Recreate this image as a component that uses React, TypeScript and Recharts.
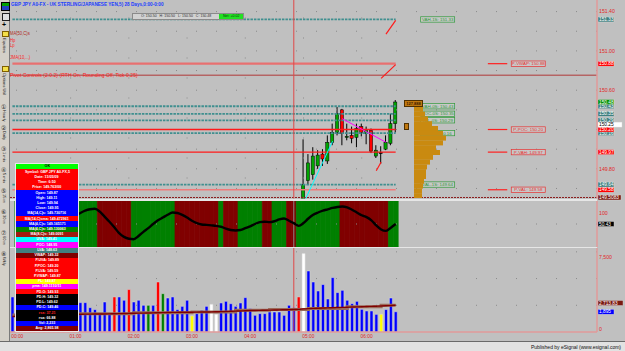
import React from 'react';
import { ComposedChart, BarChart, Bar, Line, XAxis, YAxis, ReferenceLine, Cell } from 'recharts';

const F = '"Liberation Sans", Arial, sans-serif';
const BG = '#c0c0c0';
const AXIS_RED = '#e02828';
const AXIS_LINE = '#e29a9a';

// 5-minute bars: index 0 = 23:55, 1 = 00:00 ... 79 = 06:30, the rest is empty room up to the scale
const SLOTS = 121;
const HOUR_TICKS = [1, 13, 25, 37, 49, 61, 73];
const HOUR_NAMES = ['00:00', '01:00', '02:00', '03:00', '04:00', '05:00', '06:00'];
const GRID_COLS = [12, 24, 36, 48, 60, 72];
const CURSOR_BAR = 58;
const LAST_BAR = 79;

// candles from 04:55 on (earlier ones are below the visible price range)
const CANDLE_START = 60;
const OPEN = [149.40, 149.68, 149.74, 149.83, 149.95, 149.88, 150.07, 150.17, 150.40, 150.12, 150.14, 150.12, 150.23, 150.16, 150.19, 149.93, 149.96, 150.00, 150.06, 150.26];
const HIGH = [150.10, 149.95, 150.02, 149.99, 150.00, 150.14, 150.26, 150.43, 150.41, 150.26, 150.23, 150.26, 150.26, 150.23, 150.21, 150.04, 150.03, 150.14, 150.36, 150.50];
const LOW = [149.30, 149.64, 149.69, 149.80, 149.83, 149.85, 150.04, 150.14, 150.04, 150.09, 150.06, 150.02, 150.13, 150.05, 149.96, 149.91, 149.85, 149.99, 150.04, 150.17];
const CLOSE = [149.64, 149.86, 149.93, 149.94, 149.90, 150.07, 150.17, 150.36, 150.16, 150.13, 150.11, 150.21, 150.17, 150.20, 149.98, 149.99, 149.965, 150.07, 150.26, 150.48];

const PRICE_MIN = 149.498;
const PRICE_MAX = 151.518;
const PRICE_TICKS = [149.6, 149.8, 150.0, 150.2, 150.4, 150.6, 150.8, 151.0, 151.2, 151.4];
const PRICE_TICKS_COVERED = [149.6, 150.2, 150.4];

// value-area levels (teal dashed)
const VA_LEVELS = [151.32, 150.437, 150.36, 150.294, 150.164, 149.64];
const VA_TAGS = ['151.33', '150.43', '150.35', '150.29', '150.16', '149.64'];
const VA_NOTES = ['VAH-1S: 151.33', 'VAH-0S: 150.43', 'POC-0S: 150.35', 'VAL-0S: 150.29', 'PL-0S: 150.16', 'VAL-1S: 149.64'];
// prior-session levels (red)
const PRIOR_LEVELS = [150.87, 150.2, 149.97, 149.587];
const PRIOR_TAGS = ['150.88', '150.20', '149.97', '149.58'];
const PRIOR_NOTES = ['P-VWAP: 150.88', 'P-POC: 150.20', 'P-VAH: 149.97', 'P-VAL: 149.58'];
const PRIOR_NOTE_FROM = 98;
const PRIOR_NOTE_TO = 102;
const PIVOT_LINE = 150.753;
const LAST_PRICE = 150.48;
const CURSOR_PRICE = 150.25;
const PRIOR_LOW = 149.5083;

const SUPPORT_LINE = [{ x: 60, y: 149.45 }, { x: 66, y: 150.08 }];
const SWING_LINE = [{ x: 68, y: 150.31 }, { x: 77, y: 150.07 }];
const PROJECTIONS = [
  [{ x: 77, y: 151.17 }, { x: 79, y: 151.31 }],
  [{ x: 76, y: 150.72 }, { x: 79, y: 150.86 }],
  [{ x: 75, y: 149.78 }, { x: 76, y: 149.87 }],
];

// volume profile (price bins of 0.05)
const PROFILE_PRICES = [150.45, 150.40, 150.35, 150.30, 150.25, 150.20, 150.15, 150.10, 150.05, 150.00, 149.95, 149.90, 149.85, 149.80, 149.75, 149.70, 149.65, 149.60, 149.55, 149.50];
const PROFILE_VOL = [7, 9, 11, 14, 18, 24, 29, 32, 29, 22, 26, 19, 16, 13, 12, 12, 10, 9, 8, 8];

// oscillator (0-100) and its background state per bar
const OSC = [null, null, null, null, null, null, null, null, null, null, null, null,
  64, 68, 74, 79, 82, 83, 77, 66, 55, 43, 30, 22, 18, 17, 24, 33, 41, 50, 58, 64, 70, 75, 74, 70,
  64, 57, 52, 49, 48, 47, 46, 44, 40, 37, 36, 37, 41, 45, 50, 54, 55, 54, 56, 60, 62, 57, 52, 46,
  52, 62, 70, 75, 79, 82, 85, 87, 88, 86, 81, 75, 69, 65, 58, 47, 38, 35, 42, 50];
const BANDS =
  '-' + 'ggggggggggggggggg' + 'rrrrrrr' + 'ggggggggg' + 'rrrrrrrrr' + 'g' + 'rrr' +
  'ggggg' + 'rr' + 'ggg' + 'rr' + 'ggggggggg' + 'rrrrrrrrrr' + 'gg';
const OSC_LAST_TAG = '50.43';

// volume
const VOLUME = [3280,
  2600, 2400, 2900, 2200, 2500, 2100, 2700, 2300, 2000, 2400, 2600, 2200, 2500,
  2750, 2750, 2280, 2100, 1720, 2810, 1720, 3280, 3280, 2970, 3970, 2810, 2970, 2500, 2500, 2500,
  4680, 3590, 3180, 3280, 2100, 2400, 2970, 1500, 1720, 2030, 2400, 2590, 1650, 2720, 2870, 2650,
  2400, 2720, 3220, 2190, 1560, 1720, 1720, 1870, 1870, 1870, 1560, 2500, 2280, 3280, 7340, 5710,
  4680, 3840, 4440, 3090, 5090, 3690, 3900, 2970, 2650, 2870, 2120, 1970, 1970, 1650, 1650, 2100, 3180, 1895];
const VOL_COLORS =
  'bbbbbbbbbbbbbbbbbbbbb' + 'r' + 'bb' + 'r' + 'bbb' + 'g' + 'b' + 'r' + 'g' + 'bbbbb' + 'y' + 'bbb' +
  'ww' + 'bbbbbbbbbbbbbbbb' + 'r' + 'w' + 'bbbbbbbbbbbbbbb' + 'y' + 'bbb';
const VOL_MA = [1450, 1480, 1500, 1520, 1540, 1560, 1580, 1600, 1610, 1620,
  1630, 1640, 1650, 1655, 1660, 1670, 1675, 1680, 1685, 1690,
  1700, 1710, 1720, 1730, 1745, 1755, 1765, 1770, 1780, 1790,
  1805, 1815, 1825, 1835, 1840, 1845, 1855, 1855, 1860, 1865,
  1870, 1885, 1895, 1905, 1920, 1940, 1955, 1970, 1990, 2005,
  2015, 2025, 2035, 2045, 2055, 2070, 2080, 2090, 2100, 2115,
  2160, 2190, 2210, 2225, 2240, 2255, 2275, 2290, 2305, 2320,
  2335, 2350, 2365, 2385, 2400, 2415, 2430, 2450, 2475, 2500];
const STEP_AT = [0, 13, 25, 37, 46, 53, 61, 69, 76, 79];
const STEP_VALUES = [1600, 1700, 1800, 1870, 2030, 2100, 2190, 2370, 2500, 2500];
const VOL_TICKS = [0, 2500, 5000, 7500];
const VOL_GRID = [2500, 5000, 7500];
const VOL_AVG = 2713.83;
const VOL_LAST = 1895;

const INFO_ROWS = ['OK', 'Symbol: GBP JPY A0-FX,5', 'Date: 11/05/09', 'Time: 6:50', 'Price: 149.763/00', 'Open: 149.87',
  'High: 149.11', 'Low: 149.94', 'Close: 149.95', 'MA(14,C)s: 149.730716', 'MA(14,C)sma: 149.472961',
  'MA(4,C)s: 149.165171', 'MA(4,C)s: 149.130063', 'MA(8,C)s: 149.0091', 'UVA: 149.41', 'POC: 148.95',
  'LVA: 148.63', 'VWAP: 149.32', 'P.UVA: 149.89', 'P.POC: 149.20', 'P.LVA: 149.59', 'P.VWAP: 149.87',
  'PL: 149.87', 'pma: 149.1110/11', 'PD.O: 149.93', 'PD.H: 149.32', 'PD.L: 149.62', 'PD.C: 149.46',
  'rsa: 37.21', 'rsa: 66.88', 'Vol: 2,233', 'Avg: 2,865.98'];
const INFO_BG = ['#00ff00', '#ff0000', '#ff0000', '#ff0000', '#ff0000', '#0000ff', '#0000ff', '#0000ff', '#0000ff',
  '#0000ff', '#ff0000', '#0000ff', '#008000', '#a01c10', '#00ffff', '#ff00ff', '#408080', '#800000', '#ff0000',
  '#ff0000', '#ff0000', '#ff0000', '#ffff00', '#ff00ff', '#ff0000', '#000000', '#000000', '#0000ff', '#000000',
  '#000000', '#0000ff', '#800000'];

const VOL_FILL: Record<string, string> = { b: '#0000ff', r: '#ff0000', g: '#008000', w: '#ffffff', y: '#ffff00' };
const BAND_FILL: Record<string, string> = { g: '#008000', r: '#800000' };

const rows = Array.from({ length: SLOTS }, (_, i) => {
  const k = i - CANDLE_START;
  const has = k >= 0 && k < OPEN.length;
  const s = STEP_AT.indexOf(i);
  return {
    i,
    range: has ? [LOW[k], HIGH[k]] : null,
    o: has ? OPEN[k] : null,
    h: has ? HIGH[k] : null,
    l: has ? LOW[k] : null,
    c: has ? CLOSE[k] : null,
    vol: i < VOLUME.length ? VOLUME[i] : null,
    vc: VOL_COLORS[i] || 'b',
    ma: i < VOL_MA.length ? VOL_MA[i] : null,
    step: s >= 0 ? STEP_VALUES[s] : null,
    band: i < BANDS.length && BANDS[i] !== '-' ? 100 : null,
    bc: BANDS[i] || '-',
    osc: i < OSC.length ? OSC[i] : null,
  };
});

const profileRows = PROFILE_PRICES.map((p, k) => ({ p: p.toFixed(2), v: PROFILE_VOL[k] }));

const Candle = (props: any) => {
  const { x, y, width, height, payload } = props;
  if (!payload || payload.o == null || !height) return <g />;
  const { o, h, l, c } = payload;
  const top = Math.min(y, y + height);
  const span = Math.abs(height);
  const py = (v: number) => top + ((h - v) / (h - l)) * span;
  const cx = x + width / 2;
  const bTop = py(Math.max(o, c));
  const bBot = py(Math.min(o, c));
  const fill = Math.abs(c - o) < 0.008 ? '#000' : c > o ? '#00a400' : '#ff0000';
  return (
    <g>
      <line x1={cx} x2={cx} y1={top} y2={top + span} stroke="#000" strokeWidth={1} />
      <rect x={cx - 1.6} y={bTop} width={3.2} height={Math.max(1, bBot - bTop)} fill={fill} stroke="#000" strokeWidth={0.5} />
    </g>
  );
};

function Tag({ viewBox, text, bg, fg = '#fff', w = 16 }: any) {
  if (!viewBox) return null;
  const x = viewBox.x + viewBox.width + 1;
  const y = viewBox.y;
  return (
    <g>
      <rect x={x} y={y - 2.5} width={w} height={5} fill={bg} stroke="#d8d8d8" strokeWidth={0.4} />
      <text x={x + 1} y={y + 1.7} fontSize={4.8} fill={fg} fontFamily={F}>{text}</text>
    </g>
  );
}

function Note({ viewBox, text, tone, gap }: any) {
  if (!viewBox) return null;
  const x = viewBox.x + viewBox.width + gap;
  const y = viewBox.y;
  const col = tone === 'red' ? '#e83030' : '#2f9a3a';
  return (
    <g>
      <rect x={x} y={y - 2.7} width={34} height={5.4} fill="#c8c8c8" stroke={col} strokeWidth={0.7} />
      <text x={x + 17} y={y + 1.6} textAnchor="middle" fontSize={4.4} fill={col} fontFamily={F}>{text}</text>
    </g>
  );
}

const PriceTick = ({ x, y, payload }: any) => {
  if (PRICE_TICKS_COVERED.includes(payload.value)) return <g />;
  return <text x={x} y={y} dy={1.8} fontSize={5.2} fill={AXIS_RED} fontFamily={F}>{payload.value.toFixed(2)}</text>;
};

const OscTick = ({ x, y, payload }: any) => (
  <text x={x} y={y} dy={payload.value === 100 ? 4.5 : 0.5} fontSize={5.2} fill={AXIS_RED} fontFamily={F}>{payload.value}</text>
);

const VolTick = ({ x, y, payload }: any) => {
  if (payload.value === 2500) return <g />;
  return <text x={x} y={y} dy={payload.value === 0 ? -1 : 1.8} fontSize={5.2} fill={AXIS_RED} fontFamily={F}>{payload.value.toLocaleString('en-US')}</text>;
};

const TimeTick = ({ x, y, payload }: any) => {
  const k = HOUR_TICKS.indexOf(payload.value);
  if (k < 0) return <g />;
  return <text x={x} y={y} dy={4} textAnchor="middle" fontSize={4.8} fill={AXIS_RED} fontFamily={F}>{HOUR_NAMES[k]}</text>;
};

function Txt({ x, y, size, color, sx = 1, bold, children }: any) {
  return (
    <div style={{ position: 'absolute', left: x, top: y, fontSize: size, lineHeight: 1, color, fontWeight: bold ? 700 : 400,
      whiteSpace: 'nowrap', transform: `scaleX(${sx})`, transformOrigin: '0 0', fontFamily: F }}>{children}</div>
  );
}

const dotted = { stroke: '#8a8a8a', strokeDasharray: '1 19' };

function LeftStrip() {
  const circles = ['①', '②', '③', '④', '⑤', '⑥', '⑦', '⑧'];
  const names = ['Hourly', 'Daily', '1 min', '5 min', '15 m', '30 m', '60 m', 'Wkly'];
  return (
    <div style={{ position: 'absolute', left: 0, top: 0, width: 9, height: 341, background: '#d4d0c8', borderRight: '1px solid #7a7a7a' }}>
      <div style={{ position: 'absolute', left: 1, top: 2, width: 7, height: 7, background: 'linear-gradient(#00a000 50%, #2040c0 50%)', border: '0.5px solid #000' }} />
      <div style={{ position: 'absolute', left: 1.5, top: 13, width: 6, height: 6, border: '1px solid #202020', background: '#e0e0e0' }} />
      <div style={{ position: 'absolute', left: 2, top: 21, fontSize: 7, fontWeight: 700, lineHeight: 1 }}>+</div>
      <div style={{ position: 'absolute', left: 2, top: 31, width: 5, height: 4, background: '#f4e04a', border: '0.5px solid #806000' }} />
      <div style={{ position: 'absolute', left: 1.5, top: 38, fontSize: 4.2, writingMode: 'vertical-rl', lineHeight: 1, color: '#202020' }}>Equities</div>
      <div style={{ position: 'absolute', left: 2, top: 66, width: 5, height: 4, background: '#f4e04a', border: '0.5px solid #806000' }} />
      <div style={{ position: 'absolute', left: 1.5, top: 73, fontSize: 4.2, writingMode: 'vertical-rl', lineHeight: 1, color: '#202020' }}>Options Util</div>
      {circles.map((c, k) => (
        <div key={k} style={{ position: 'absolute', left: 0.5, top: 104 + k * 21, lineHeight: 1, fontSize: 6, color: '#202020' }}>
          <div>{c}</div>
          <div style={{ fontSize: 4, writingMode: 'vertical-rl', marginLeft: 1.5 }}>{names[k]}</div>
        </div>
      ))}
    </div>
  );
}

function InfoBox() {
  return (
    <div style={{ position: 'absolute', left: 15, top: 163, width: 62, border: '0.5px solid #e8e8e8' }}>
      {INFO_ROWS.map((t, k) => (
        <div key={k} style={{ height: 5.22, background: INFO_BG[k], display: 'flex', alignItems: 'center', justifyContent: 'center', overflow: 'hidden' }}>
          <span style={{ fontSize: 4.4, fontWeight: 700, lineHeight: 1, whiteSpace: 'nowrap', fontFamily: F,
            color: k === 0 ? '#000' : k === 28 ? '#ff2020' : '#fff', transform: 'scaleX(0.82)' }}>{t}</span>
        </div>
      ))}
    </div>
  );
}

export default function App() {
  return (
    <div style={{ position: 'absolute', left: 0, top: 0, width: 625, height: 351, background: BG, overflow: 'hidden', fontFamily: F }}>
      {/* panel separators */}
      <div style={{ position: 'absolute', left: 10, top: 199, width: 587, height: 1.5, background: '#e6e6e6' }} />
      <div style={{ position: 'absolute', left: 10, top: 247, width: 587, height: 1.2, background: '#e6e6e6' }} />

      {/* oscillator panel */}
      <div style={{ position: 'absolute', left: 0, top: 201 }}>
        <ComposedChart width={625} height={46} data={rows} margin={{ top: 0, right: 0, bottom: 0, left: 10 }} barCategoryGap={0} barGap={0}>
          <XAxis dataKey="i" type="category" hide />
          <YAxis orientation="right" width={28} domain={[0, 100]} ticks={[0, 100]} tick={<OscTick />} tickLine={false}
            tickSize={1} tickMargin={1} axisLine={{ stroke: AXIS_LINE, strokeWidth: 1.5 }} />
          <ReferenceLine y={50} {...dotted} />
          <Bar dataKey="band" isAnimationActive={false}>
            {rows.map((r) => (
              <Cell key={r.i} fill={BAND_FILL[r.bc] || 'none'} stroke={BAND_FILL[r.bc] || 'none'} strokeWidth={0.6} />
            ))}
          </Bar>
          <ReferenceLine x={CURSOR_BAR} stroke="#8a8a8a" strokeWidth={1} />
          <Line dataKey="osc" type="monotone" stroke="#000" strokeWidth={2.4} dot={false} isAnimationActive={false} />
          <ReferenceLine y={50} stroke="none" label={<Tag text={OSC_LAST_TAG} bg="#000" />} />
        </ComposedChart>
      </div>

      {/* volume panel */}
      <div style={{ position: 'absolute', left: 0, top: 248 }}>
        <ComposedChart width={625} height={94} data={rows} margin={{ top: 0, right: 0, bottom: 0, left: 10 }}>
          <XAxis dataKey="i" type="category" interval={0} tick={<TimeTick />} tickLine={false} tickSize={2} tickMargin={0}
            height={10} axisLine={{ stroke: AXIS_LINE, strokeWidth: 1.5 }} />
          <YAxis orientation="right" width={28} domain={[0, 7860]} ticks={VOL_TICKS} tick={<VolTick />} tickLine={false}
            tickSize={1} tickMargin={1} axisLine={{ stroke: AXIS_LINE, strokeWidth: 1.5 }} />
          {VOL_GRID.map((v) => <ReferenceLine key={'vg' + v} y={v} {...dotted} />)}
          <ReferenceLine x={CURSOR_BAR} stroke="#e04848" strokeWidth={1} />
          <Bar dataKey="vol" barSize={3} isAnimationActive={false}>
            {rows.map((r) => (
              <Cell key={r.i} fill={VOL_FILL[r.vc]} stroke="#dcdcdc" strokeWidth={0.5} />
            ))}
          </Bar>
          <Line dataKey="step" type="stepAfter" connectNulls stroke="#9a6a5a" strokeWidth={3} dot={false} isAnimationActive={false} />
          <Line dataKey="ma" type="monotone" stroke="#800000" strokeWidth={1.4} dot={false} isAnimationActive={false} />
          <ReferenceLine y={VOL_AVG} stroke="none" label={<Tag text="2,713.83" bg="#7a1a12" w={25} />} />
          <ReferenceLine y={VOL_LAST} stroke="none" label={<Tag text="1,895" bg="#0000ff" />} />
        </ComposedChart>
      </div>

      {/* price panel */}
      <div style={{ position: 'absolute', left: 0, top: 0 }}>
        <ComposedChart width={625} height={202} data={rows} margin={{ top: 0, right: 0, bottom: 3.5, left: 10 }}>
          <XAxis dataKey="i" type="category" hide />
          <YAxis orientation="right" width={28} type="number" domain={[PRICE_MIN, PRICE_MAX]} allowDataOverflow
            ticks={PRICE_TICKS} tick={<PriceTick />} tickLine={false} tickSize={1} tickMargin={1}
            axisLine={{ stroke: AXIS_LINE, strokeWidth: 1.5 }} />
          {PRICE_TICKS.map((p) => <ReferenceLine key={'g' + p} y={p} {...dotted} />)}
          {GRID_COLS.map((c) => <ReferenceLine key={'v' + c} x={c} {...dotted} />)}
          <ReferenceLine y={PIVOT_LINE} stroke="#b03838" strokeWidth={1} />
          <ReferenceLine y={PRIOR_LOW} stroke="#8b1c1c" strokeWidth={1} strokeDasharray="2 1" />
          {VA_LEVELS.map((p, k) => (
            <ReferenceLine key={'va' + k} segment={[{ x: 0, y: p }, { x: LAST_BAR, y: p }]} stroke="#3f8f8f" strokeWidth={1.8}
              strokeDasharray="2.5 1" label={<Note text={VA_NOTES[k]} tone="green" gap={25} />} />
          ))}
          {PRIOR_LEVELS.map((p, k) => (
            <ReferenceLine key={'pl' + k} segment={[{ x: 0, y: p }, { x: LAST_BAR, y: p }]}
              stroke={k === 0 ? '#e87070' : k === 3 ? '#f07a7a' : '#ff1a1a'} strokeWidth={k === 0 ? 2.2 : 1.3} />
          ))}
          {PRIOR_LEVELS.map((p, k) => (
            <ReferenceLine key={'pn' + k} segment={[{ x: PRIOR_NOTE_FROM, y: p }, { x: PRIOR_NOTE_TO, y: p }]}
              stroke="#ff2020" strokeWidth={1.2} label={<Note text={PRIOR_NOTES[k]} tone="red" gap={4} />} />
          ))}
          <ReferenceLine x={CURSOR_BAR} stroke="#e04848" strokeWidth={1} />
          <ReferenceLine segment={SUPPORT_LINE} stroke="#00ffff" strokeWidth={1} ifOverflow="hidden" />
          <ReferenceLine segment={SWING_LINE} stroke="#ff00ff" strokeWidth={1} />
          {PROJECTIONS.map((s, k) => <ReferenceLine key={'pj' + k} segment={s} stroke="#ff1a1a" strokeWidth={1.2} />)}
          <Bar dataKey="range" shape={<Candle />} isAnimationActive={false} barSize={4} />
          {VA_LEVELS.map((p, k) => (
            <ReferenceLine key={'vt' + k} y={p} stroke="none" label={<Tag text={VA_TAGS[k]} bg="#3f8080" />} />
          ))}
          {PRIOR_LEVELS.map((p, k) => (
            <ReferenceLine key={'pt' + k} y={p} stroke="none" label={<Tag text={PRIOR_TAGS[k]} bg="#ff0000" />} />
          ))}
          <ReferenceLine y={CURSOR_PRICE} stroke="none" label={<Tag text="150.25" bg="#ffffff" fg="#000" w={24} />} />
          <ReferenceLine y={LAST_PRICE} stroke="none" label={<Tag text="150.48" bg="#009000" />} />
          <ReferenceLine y={PRIOR_LOW} stroke="none" label={<Tag text="149.5083" bg="#7a1a12" w={23} />} />
        </ComposedChart>
      </div>

      {/* volume profile */}
      <div style={{ position: 'absolute', left: 414, top: 102.3 }}>
        <BarChart layout="vertical" width={50} height={96} data={profileRows} margin={{ top: 0, right: 0, bottom: 0, left: 0 }} barCategoryGap={0}>
          <XAxis type="number" domain={[0, 50]} hide />
          <YAxis type="category" dataKey="p" hide />
          <Bar dataKey="v" fill="#c98a10" isAnimationActive={false} />
        </BarChart>
      </div>
      <div style={{ position: 'absolute', left: 404, top: 99.5, width: 17, height: 5, background: '#c07810', border: '0.5px solid #503000',
        fontSize: 4, lineHeight: '5px', color: '#3a1c00', textAlign: 'center', fontWeight: 700 }}>127,888</div>
      <div style={{ position: 'absolute', left: 404, top: 122.5, width: 3, height: 5, background: '#c07810', border: '0.5px solid #503000' }} />

      {/* header texts */}
      <Txt x={11} y={1.5} size={5.6} color="#1a3cff" bold sx={0.83}>GBP JPY A0-FX - UK STERLING/JAPANESE YEN,5) 28 Days,0:00-0:00</Txt>
      <div style={{ position: 'absolute', left: 132, top: 12.5, width: 110, height: 5, background: '#d2d2d2', border: '0.5px solid #8a8a8a' }}>
        <Txt x={8} y={0.6} size={4.2} color="#303030" sx={0.85}>O: 150.50{'\u00a0\u00a0\u00a0'}H: 150.50{'\u00a0\u00a0\u00a0'}L: 150.50{'\u00a0\u00a0\u00a0'}C: 150.48</Txt>
        <div style={{ position: 'absolute', left: 86, top: 0, width: 24, height: 5, background: '#22e022' }}>
          <Txt x={4} y={0.6} size={4.2} color="#103010" sx={0.85}>Net: +0.02</Txt>
        </div>
      </div>
      <Txt x={10} y={31.3} size={5.5} color="#b02818" sx={0.75}>MA(50,C)s</Txt>
      <Txt x={10} y={37.8} size={5.5} color="#ff2020" sx={0.75}>Hp</Txt>
      <Txt x={10} y={43} size={5.5} color="#ff2020" sx={0.75}>Lp</Txt>
      <Txt x={10} y={54.8} size={5.5} color="#ff2020" sx={0.75}>JMA(10,...)</Txt>
      <Txt x={10} y={72.8} size={5.5} color="#ff2020" sx={0.93}>Pivot Controls (2.0.2) (RTH On, Rounding Off, Tick 0.25)</Txt>

      <InfoBox />
      <LeftStrip />

      {/* footer */}
      <div style={{ position: 'absolute', left: 0, top: 341, width: 625, height: 10, background: '#e2e2e2', borderTop: '1px solid #6a6a6a' }}>
        <div style={{ position: 'absolute', right: 4, top: 2.5, fontSize: 5, lineHeight: 1, color: '#101010', whiteSpace: 'nowrap' }}>
          Published by eSignal (www.esignal.com)
        </div>
      </div>
    </div>
  );
}
